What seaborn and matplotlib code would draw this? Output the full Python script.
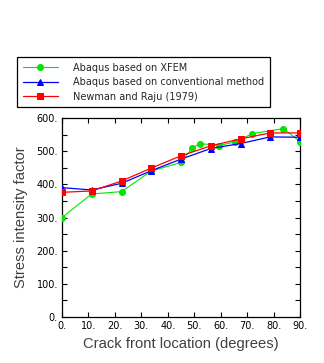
import matplotlib
matplotlib.use("Agg")
import matplotlib.pyplot as plt
from matplotlib.ticker import FixedLocator, FixedFormatter, MultipleLocator
import numpy as np
import pandas as pd
import seaborn as sns

# Crack front angle (degrees) and stress intensity factor for each method
angle_xfem = [0, 11.25, 22.5, 33.75, 45, 49.3, 52.2, 59.3, 65.6, 72, 83.7, 90]
k_xfem = [300, 371, 378, 440, 466, 510, 523, 517, 528, 553, 568, 529]

angle_conv = [0, 11.25, 22.5, 33.75, 45, 56.25, 67.5, 78.75, 90]
k_conv = [390, 383, 403, 441, 476, 508, 523, 543, 542]

angle_newman = [0, 11.25, 22.5, 33.75, 45, 56.25, 67.5, 78.75, 90]
k_newman = [376, 380, 410, 449, 486, 516, 537, 555, 555]

series_names = ["Abaqus based on XFEM",
                "Abaqus based on conventional method",
                "Newman and Raju (1979)"]

x_ticks = [0, 10, 20, 30, 40, 50, 60, 70, 80, 90]
x_tick_labels = ["0.", "10.", "20.", "30.", "40.", "50.", "60.", "70.", "80.", "90."]
y_ticks = [0, 100, 200, 300, 400, 500, 600]
y_tick_labels = ["0.", "100.", "200.", "300.", "400.", "500.", "600."]

sns.set_style("ticks")
plt.rcParams["font.family"] = ["DejaVu Sans"]

fig = plt.figure(figsize=(3.24, 3.63), dpi=100)
ax = fig.add_axes([62 / 324, 1 - 317 / 363, 238 / 324, 199 / 363])

df_xfem = pd.DataFrame({"angle": angle_xfem, "K": k_xfem})
df_conv = pd.DataFrame({"angle": angle_conv, "K": k_conv})
df_newman = pd.DataFrame({"angle": angle_newman, "K": k_newman})

sns.lineplot(data=df_xfem, x="angle", y="K", ax=ax, sort=False,
             color="#00e600", lw=0.8, marker="o", markersize=4.3,
             markeredgecolor="#00e600", label=series_names[0], zorder=3)
sns.lineplot(data=df_conv, x="angle", y="K", ax=ax, sort=False,
             color="#0000ff", lw=0.9, marker="^", markersize=5,
             markeredgecolor="#0000ff", label=series_names[1], zorder=4)
sns.lineplot(data=df_newman, x="angle", y="K", ax=ax, sort=False,
             color="#ff0000", lw=0.9, marker="s", markersize=5,
             markeredgecolor="#ff0000", label=series_names[2], zorder=5)

ax.set_xlim(0, 90)
ax.set_ylim(0, 600)
ax.xaxis.set_major_locator(FixedLocator(x_ticks))
ax.xaxis.set_major_formatter(FixedFormatter(x_tick_labels))
ax.yaxis.set_major_locator(FixedLocator(y_ticks))
ax.yaxis.set_major_formatter(FixedFormatter(y_tick_labels))
ax.yaxis.set_minor_locator(MultipleLocator(50))

for side in ["top", "right", "left", "bottom"]:
    ax.spines[side].set_visible(True)
    ax.spines[side].set_linewidth(0.9)
    ax.spines[side].set_color("black")

ax.tick_params(axis="both", which="both", direction="in", length=3.6,
               width=0.8, top=True, right=True, labelsize=7, colors="black",
               pad=3)
ax.tick_params(axis="x", which="minor", top=False, bottom=False)

label_font = dict(family=["Liberation Sans", "DejaVu Sans"], size=10.6,
                  color="#404040")
ax.set_xlabel("Crack front location (degrees)", labelpad=4, **label_font)
ax.set_ylabel("Stress intensity factor", labelpad=6, **label_font)

ax.get_legend().remove()
handles, labels = ax.get_legend_handles_labels()
leg = fig.legend(handles, labels, loc="upper left",
                 bbox_to_anchor=(17 / 324, 1 - 57 / 363),
                 bbox_transform=fig.transFigure,
                 frameon=True, fancybox=False, edgecolor="black",
                 framealpha=1, fontsize=7.0, handlelength=3.6,
                 handletextpad=1.6, labelspacing=0.45, borderpad=0.6,
                 borderaxespad=0)
leg.get_frame().set_linewidth(0.9)

fig.savefig("out.png", dpi=100)
